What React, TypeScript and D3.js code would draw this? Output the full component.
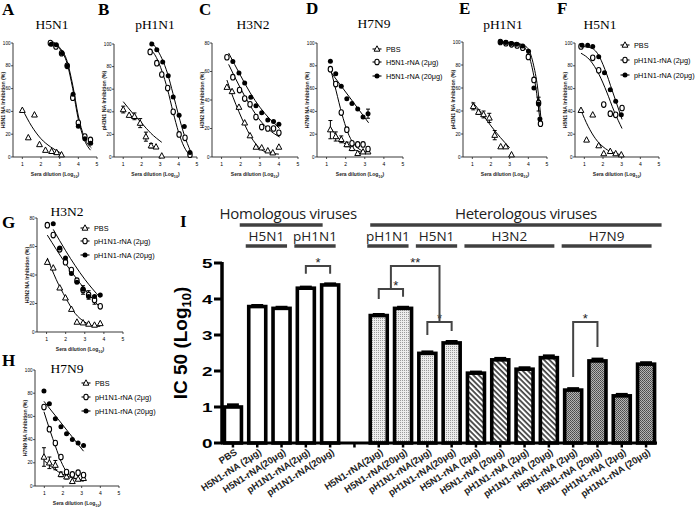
import React from "react";
import * as d3 from "d3";

type Pt = [number, number];

// ---------------- small panels: measured points (x = log10 dilution, y = % inhibition) ----------------
const A_PBS: Pt[] = [[1.0, 41], [1.32, 17], [1.65, 37], [1.92, 11], [2.24, 6], [2.57, 5], [2.84, 4], [3.1, 2]];
const A_LO: Pt[] = [[2.5, 100], [2.8, 97], [3.1, 91], [3.4, 80], [3.7, 52], [4.0, 30], [4.35, 18], [4.65, 15]];
const A_HI: Pt[] = [[2.55, 99], [2.82, 98.5], [3.14, 91], [3.41, 80], [3.72, 55], [4.0, 27], [4.35, 16], [4.66, 12]];
const A_FIT_PBS: Pt[] = [[1.0, 42], [1.5, 27], [2.0, 16], [2.5, 9], [3.0, 4], [3.1, 3]];
const A_FIT_LO: Pt[] = [[2.5, 101], [3.0, 95], [3.4, 82], [3.7, 60], [4.0, 33], [4.3, 16], [4.65, 6]];
const A_FIT_HI: Pt[] = [[2.5, 102], [3.0, 96], [3.4, 84], [3.7, 63], [4.0, 36], [4.3, 18], [4.7, 8]];

const B_PBS: Pt[] = [[1.0, 42], [1.32, 37], [1.61, 36], [1.92, 30], [2.23, 18], [2.51, 10], [2.78, 9], [3.09, 1]];
const B_PBS_ERR = [3, 0, 3, 4, 4, 2, 0, 0];
const B_LO: Pt[] = [[2.46, 93], [2.82, 83], [3.09, 73], [3.41, 61], [3.71, 40], [4.03, 20], [4.35, 17], [4.62, 2]];
const B_HI: Pt[] = [[2.55, 100], [2.82, 95], [3.14, 84], [3.44, 72], [3.71, 53], [4.03, 37], [4.31, 27], [4.62, 4]];
const B_FIT_PBS: Pt[] = [[1.0, 49], [1.5, 39], [2.0, 30], [2.5, 21], [3.09, 13]];
const B_FIT_LO: Pt[] = [[2.45, 96], [2.8, 88], [3.1, 76], [3.4, 60], [3.7, 40], [4.0, 22], [4.3, 9], [4.65, 1]];
const B_FIT_HI: Pt[] = [[2.5, 102], [2.8, 96], [3.1, 87], [3.4, 74], [3.7, 56], [4.0, 37], [4.3, 20], [4.65, 5]];

const C_PBS: Pt[] = [[1.28, 49], [1.55, 46], [1.91, 35], [2.21, 24], [2.49, 15], [2.8, 7], [3.1, 6.5], [3.42, 4.4], [3.68, 3], [4.0, 7]];
const C_LO: Pt[] = [[1.28, 70], [1.59, 56], [1.94, 47], [2.21, 41], [2.49, 37], [2.8, 28], [3.1, 21], [3.42, 20], [3.72, 20], [4.0, 17]];
const C_HI: Pt[] = [[1.59, 67], [1.91, 59], [2.21, 52], [2.53, 42], [2.8, 36], [3.1, 31], [3.42, 26], [3.72, 25], [4.0, 23]];
const C_FIT_PBS: Pt[] = [[1.28, 54], [1.6, 42], [1.9, 32], [2.2, 23], [2.5, 15], [2.8, 9], [3.1, 5], [3.5, 3], [4.0, 2]];
const C_FIT_LO: Pt[] = [[1.37, 65], [2.0, 48], [2.5, 36], [3.0, 26], [3.5, 19], [4.04, 14]];
const C_FIT_HI: Pt[] = [[1.37, 73], [2.0, 57], [2.5, 45], [3.0, 35], [3.5, 27], [4.04, 20]];

const D_PBS: Pt[] = [[1.2, 24], [1.48, 18], [1.77, 15.5], [2.06, 11], [2.33, 7.6], [2.63, 3.2], [2.91, 4.6], [3.17, 4.6]];
const D_PBS_ERR = [8, 4, 3, 2, 2, 0, 0, 0];
const D_LO: Pt[] = [[1.2, 77], [1.48, 64], [1.77, 39], [2.06, 24], [2.33, 12], [2.63, 11], [2.91, 11], [3.17, 7]];
const D_HI: Pt[] = [[1.2, 84], [1.48, 73], [1.77, 62], [2.06, 51], [2.33, 47], [2.63, 42], [2.91, 35], [3.17, 38]];
const D_HI_ERR = [0, 0, 0, 0, 0, 0, 0, 4];
const D_FIT_PBS: Pt[] = [[1.2, 26], [1.6, 17], [2.0, 11], [2.5, 6], [3.2, 3]];
const D_FIT_LO: Pt[] = [[1.2, 78], [1.5, 58], [1.8, 38], [2.1, 22], [2.4, 12], [2.8, 6], [3.2, 4]];
const D_FIT_HI: Pt[] = [[1.2, 75], [3.2, 30]];

const E_PBS: Pt[] = [[1.05, 44], [1.33, 39], [1.6, 37], [1.91, 34], [2.2, 19], [2.52, 9], [2.79, 9], [3.1, 2]];
const E_PBS_ERR = [3, 2, 3, 4, 4, 0, 0, 0];
const E_LO: Pt[] = [[2.5, 100], [2.8, 99], [3.1, 98], [3.4, 97], [3.7, 95], [4.0, 87], [4.3, 67], [4.55, 47], [4.65, 29]];
const E_HI: Pt[] = [[2.52, 100], [2.79, 99.5], [3.07, 98.6], [3.37, 98], [3.7, 96.5], [4.01, 92], [4.3, 60], [4.55, 46], [4.62, 33]];
const E_HI_ERR = [0, 0, 0, 0, 0, 0, 0, 6, 0];
const E_FIT_PBS: Pt[] = [[1.0, 48], [1.5, 38], [2.0, 27], [2.5, 17], [3.0, 8]];
const E_FIT_LO: Pt[] = [[2.5, 100], [3.5, 98], [3.9, 93], [4.2, 78], [4.45, 55], [4.65, 28]];
const E_FIT_HI: Pt[] = [[2.5, 100], [3.5, 98.5], [3.95, 95], [4.25, 82], [4.5, 60], [4.68, 33]];

const F_PBS: Pt[] = [[0.82, 41], [1.12, 15], [1.45, 37], [1.77, 10], [2.04, 3], [2.39, 5], [2.68, 3], [2.98, 2]];
const F_LO: Pt[] = [[0.82, 97], [1.45, 87], [1.77, 76], [2.04, 46], [2.39, 38], [2.68, 37], [3.02, 43]];
const F_HI: Pt[] = [[0.88, 98], [1.18, 98], [1.45, 97], [1.77, 88], [2.08, 74], [2.39, 59], [2.68, 49], [2.98, 37]];
const F_FIT_PBS: Pt[] = [[0.82, 41], [1.2, 27], [1.6, 16], [2.0, 9], [2.5, 4], [3.0, 2]];
const F_FIT_LO: Pt[] = [[0.82, 91], [1.3, 85], [1.8, 72], [2.2, 57], [2.6, 40], [3.02, 25]];
const F_FIT_HI: Pt[] = [[0.82, 97], [1.3, 96], [1.7, 91], [2.1, 77], [2.5, 58], [3.02, 33]];

const G_PBS: Pt[] = [[1.04, 49], [1.35, 45], [1.69, 31], [1.99, 24], [2.3, 16], [2.59, 7], [2.91, 6.5], [3.2, 5.6], [3.51, 4.9], [3.81, 6]];
const G_LO: Pt[] = [[1.04, 75], [1.35, 68], [1.69, 58], [1.99, 49], [2.3, 43.5], [2.59, 36], [2.91, 29.5], [3.2, 26], [3.51, 22.5], [3.81, 18]];
const G_LO_ERR = [0, 0, 0, 0, 0, 0, 3, 3, 3, 0];
const G_HI: Pt[] = [[1.35, 76], [1.69, 59], [1.99, 52], [2.3, 41], [2.59, 35], [2.91, 30], [3.2, 25], [3.51, 25], [3.81, 26]];
const G_FIT_PBS: Pt[] = [[1.04, 52], [1.5, 37], [2.0, 24], [2.5, 13], [3.0, 7], [3.5, 4], [3.81, 4]];
const G_FIT_LO: Pt[] = [[1.04, 68], [2.0, 48], [3.0, 30], [3.81, 17]];
const G_FIT_HI: Pt[] = [[1.35, 72], [2.0, 57], [3.0, 37], [3.81, 24]];

const H_PBS: Pt[] = [[0.98, 25], [1.27, 20], [1.59, 18], [1.89, 10], [2.19, 8], [2.5, 4], [2.81, 6], [3.1, 6.6]];
const H_PBS_ERR = [8, 5, 4, 2, 2, 0, 0, 0];
const H_LO: Pt[] = [[0.98, 68], [1.27, 49], [1.59, 37], [1.89, 25], [2.19, 12], [2.5, 10], [2.81, 11.5], [3.1, 9.5]];
const H_HI: Pt[] = [[0.98, 82], [1.27, 71], [1.59, 58], [1.89, 51], [2.19, 45], [2.5, 40], [2.81, 37], [3.1, 35]];
const H_FIT_PBS: Pt[] = [[0.98, 22], [1.5, 15], [2.0, 10], [2.5, 7], [3.1, 4]];
const H_FIT_LO: Pt[] = [[0.98, 64], [1.3, 48], [1.6, 34], [1.9, 21], [2.2, 12], [2.6, 7], [3.1, 5]];
const H_FIT_HI: Pt[] = [[0.98, 73], [3.1, 30]];

const X_TICKS = [1, 2, 3, 4, 5];
const LEGEND_H5 = ["PBS", "H5N1-rNA (2\u03bcg)", "H5N1-rNA (20\u03bcg)"];
const LEGEND_PH1 = ["PBS", "pH1N1-rNA (2\u03bcg)", "pH1N1-rNA (20\u03bcg)"];

// ---------------- panel I data ----------------
const BAR_LABELS = [
  "PBS", "H5N1-rNA (2\u03bcg)", "H5N1-rNA(20\u03bcg)", "pH1N1-rNA(2\u03bcg)", "pH1N1-rNA(20\u03bcg)", "",
  "H5N1-rNA(2\u03bcg)", "H5N1-rNA(20\u03bcg)", "pH1N1-rNA(2\u03bcg)", "pH1N1-rNA(20\u03bcg)",
  "H5N1-rNA (2\u03bcg)", "H5N1-rNA (20\u03bcg)", "pH1N1-rNA (2\u03bcg)", "pH1N1-rNA (20\u03bcg)",
  "H5N1-rNA (2\u03bcg)", "H5N1-rNA (20\u03bcg)", "pH1N1-rNA (2\u03bcg)", "pH1N1-rNA (20\u03bcg)",
];
const BAR_VALUES: (number | null)[] = [1.0, 3.79, 3.74, 4.3, 4.39, null, 3.54, 3.74, 2.49, 2.78, 1.94, 2.31, 2.05, 2.37, 1.47, 2.28, 1.31, 2.19];
const BAR_ERR = [0.06, 0.03, 0.03, 0.03, 0.03, 0, 0.03, 0.03, 0.04, 0.04, 0.03, 0.04, 0.04, 0.05, 0.04, 0.05, 0.04, 0.04];
const BAR_GROUP = ["homo", "homo", "homo", "homo", "homo", "", "het1", "het1", "het1", "het1", "h3", "h3", "h3", "h3", "h7", "h7", "h7", "h7"];
const Y_TICKS_I = [0, 1, 2, 3, 4, 5];
// significance brackets: [left index, right index, top value, left leg bottom, right leg bottom, label]
const BRACKETS: [number, number, number, number, number, string][] = [
  [3, 4, 4.92, 4.7, 4.7, "*"],
  [6, 7, 4.28, 4.0, 4.06, "*"],
  [8, 9, 3.36, 3.0, 3.11, "*"],
  [14, 15, 3.36, 1.83, 2.67, "*"],
];
// header groups: [label, from index, to index, level]
const HEADERS: [string, number, number, number][] = [
  ["Homologous viruses", 1, 4, 0],
  ["Heterologous  viruses", 6, 17, 0],
  ["H5N1", 1, 2, 1],
  ["pH1N1", 3, 4, 1],
  ["pH1N1", 6, 7, 1],
  ["H5N1", 8, 9, 1],
  ["H3N2", 10, 13, 1],
  ["H7N9", 14, 17, 1],
];

const SERIF = "'Liberation Serif', 'Times New Roman', serif";
const SANS = "'Liberation Sans', Arial, sans-serif";

type Series = { kind: "pbs" | "lo" | "hi"; pts: Pt[]; fit: Pt[]; err?: number[] };
type PanelCfg = {
  id: string; title: string; ylab: string; x0: number; x1: number; yt: number; yb: number; ymax: number;
  letter: [number, number]; titlePos: [number, number]; series: Series[];
  legend?: { x: number; ys: number[]; labels: string[] };
};

const PANELS: PanelCfg[] = [
  { id: "A", title: "H5N1", ylab: "H5N1 NA Inhibition (%)", x0: 13, x1: 97, yt: 43, yb: 157, ymax: 100, letter: [2, 15], titlePos: [52, 29],
    series: [{ kind: "pbs", pts: A_PBS, fit: A_FIT_PBS }, { kind: "lo", pts: A_LO, fit: A_FIT_LO }, { kind: "hi", pts: A_HI, fit: A_FIT_HI }] },
  { id: "B", title: "pH1N1", ylab: "pH1N1 NA Inhibition (%)", x0: 114, x1: 197, yt: 44, yb: 157, ymax: 100, letter: [98, 15], titlePos: [155, 29],
    series: [{ kind: "pbs", pts: B_PBS, fit: B_FIT_PBS, err: B_PBS_ERR }, { kind: "lo", pts: B_LO, fit: B_FIT_LO }, { kind: "hi", pts: B_HI, fit: B_FIT_HI }] },
  { id: "C", title: "H3N2", ylab: "H3N2 NA Inhibition (%)", x0: 212, x1: 298, yt: 43, yb: 157, ymax: 80, letter: [199, 15], titlePos: [253, 29],
    series: [{ kind: "pbs", pts: C_PBS, fit: C_FIT_PBS }, { kind: "lo", pts: C_LO, fit: C_FIT_LO }, { kind: "hi", pts: C_HI, fit: C_FIT_HI }] },
  { id: "D", title: "H7N9", ylab: "H7N9 NA Inhibition (%)", x0: 317, x1: 403, yt: 43, yb: 157, ymax: 100, letter: [306, 14], titlePos: [374, 28],
    series: [{ kind: "pbs", pts: D_PBS, fit: D_FIT_PBS, err: D_PBS_ERR }, { kind: "lo", pts: D_LO, fit: D_FIT_LO }, { kind: "hi", pts: D_HI, fit: D_FIT_HI, err: D_HI_ERR }],
    legend: { x: 377, ys: [49, 62, 76], labels: LEGEND_H5 } },
  { id: "E", title: "pH1N1", ylab: "pH1N1 NA Inhibition (%)", x0: 463, x1: 547, yt: 42, yb: 157, ymax: 100, letter: [459, 14], titlePos: [503, 29],
    series: [{ kind: "pbs", pts: E_PBS, fit: E_FIT_PBS, err: E_PBS_ERR }, { kind: "lo", pts: E_LO, fit: E_FIT_LO }, { kind: "hi", pts: E_HI, fit: E_FIT_HI, err: E_HI_ERR }] },
  { id: "F", title: "H5N1", ylab: "H5N1 NA Inhibition (%)", x0: 575, x1: 659, yt: 43, yb: 157, ymax: 100, letter: [557, 14], titlePos: [600, 29],
    series: [{ kind: "pbs", pts: F_PBS, fit: F_FIT_PBS }, { kind: "lo", pts: F_LO, fit: F_FIT_LO }, { kind: "hi", pts: F_HI, fit: F_FIT_HI }],
    legend: { x: 625, ys: [45, 60, 75], labels: LEGEND_PH1 } },
  { id: "G", title: "H3N2", ylab: "H3N2 NA Inhibition (%)", x0: 37, x1: 123, yt: 218, yb: 332, ymax: 80, letter: [2, 228], titlePos: [67, 216],
    series: [{ kind: "pbs", pts: G_PBS, fit: G_FIT_PBS }, { kind: "lo", pts: G_LO, fit: G_FIT_LO, err: G_LO_ERR }, { kind: "hi", pts: G_HI, fit: G_FIT_HI }],
    legend: { x: 85, ys: [228, 241, 255], labels: LEGEND_PH1 } },
  { id: "H", title: "H7N9", ylab: "H7N9 NA Inhibition (%)", x0: 35, x1: 119, yt: 370, yb: 486, ymax: 100, letter: [2, 366], titlePos: [67, 373],
    series: [{ kind: "pbs", pts: H_PBS, fit: H_FIT_PBS, err: H_PBS_ERR }, { kind: "lo", pts: H_LO, fit: H_FIT_LO }, { kind: "hi", pts: H_HI, fit: H_FIT_HI }],
    legend: { x: 86, ys: [383, 397, 411], labels: LEGEND_PH1 } },
];

function Marker({ kind, cx, cy }: { kind: string; cx: number; cy: number }) {
  if (kind === "pbs")
    return <path d={`M${cx},${cy - 3.2}L${cx + 2.9},${cy + 2.2}L${cx - 2.9},${cy + 2.2}Z`} fill="white" stroke="black" strokeWidth={1} />;
  if (kind === "lo") return <ellipse cx={cx} cy={cy} rx={2.2} ry={2.8} fill="white" stroke="black" strokeWidth={1.1} />;
  return <circle cx={cx} cy={cy} r={2.5} fill="black" />;
}

function SmallPanel({ p }: { p: PanelCfg }) {
  const x = d3.scaleLinear().domain([0.5, 5]).range([p.x0, p.x1]);
  const y = d3.scaleLinear().domain([0, p.ymax]).range([p.yb, p.yt]);
  const line = d3.line<Pt>().x((d) => x(d[0])).y((d) => y(d[1])).curve(d3.curveMonotoneX);
  const yTicks = d3.range(0, p.ymax + 1, 20);
  const midY = (p.yt + p.yb) / 2;
  const midX = (p.x0 + p.x1) / 2;
  return (
    <g>
      <text x={p.letter[0]} y={p.letter[1]} fontFamily={SERIF} fontWeight="bold" fontSize={17}>{p.id}</text>
      <text x={p.titlePos[0]} y={p.titlePos[1]} textAnchor="middle" fontFamily={SERIF} fontSize={13.5}>{p.title}</text>
      <line x1={p.x0} x2={p.x0} y1={p.yt} y2={p.yb} stroke="#222" strokeWidth={0.9} />
      <line x1={p.x0} x2={p.x1} y1={p.yb} y2={p.yb} stroke="#222" strokeWidth={0.9} />
      {yTicks.map((t) => (
        <g key={"y" + t}>
          <line x1={p.x0 - 2} x2={p.x0} y1={y(t)} y2={y(t)} stroke="#222" strokeWidth={0.8} />
          <text x={p.x0 - 2.5} y={y(t)} dy="0.35em" textAnchor="end" fontFamily={SANS} fontSize={4.6}>{t}</text>
        </g>
      ))}
      {X_TICKS.map((t) => (
        <g key={"x" + t}>
          <line x1={x(t)} x2={x(t)} y1={p.yb} y2={p.yb + 2} stroke="#222" strokeWidth={0.8} />
          <text x={x(t)} y={p.yb + 8.5} textAnchor="middle" fontFamily={SANS} fontSize={5}>{t}</text>
        </g>
      ))}
      <text x={midX} y={p.yb + 19} textAnchor="middle" fontFamily={SANS} fontSize={5} fontWeight="bold" fill="#222">
        Sera dilution (Log<tspan dy={1.5} fontSize={3.8}>10</tspan><tspan dy={-1.5}>)</tspan>
      </text>
      <text transform={`translate(${p.x0 - 8},${midY}) rotate(-90)`} textAnchor="middle" fontFamily={SANS} fontSize={5.2} fontWeight="bold" fill="#222">
        {p.ylab}
      </text>
      {p.series.map((s, i) => (
        <path key={"f" + i} d={line(s.fit) || ""} fill="none" stroke="black" strokeWidth={1} />
      ))}
      {p.series.map((s, i) =>
        s.err ? s.pts.map((d, j) => s.err![j] > 0 ? (
          <g key={`e${i}-${j}`} stroke="black" strokeWidth={1}>
            <line x1={x(d[0])} x2={x(d[0])} y1={y(d[1] - s.err![j])} y2={y(d[1] + s.err![j])} />
            <line x1={x(d[0]) - 2} x2={x(d[0]) + 2} y1={y(d[1] + s.err![j])} y2={y(d[1] + s.err![j])} />
            <line x1={x(d[0]) - 2} x2={x(d[0]) + 2} y1={y(d[1] - s.err![j])} y2={y(d[1] - s.err![j])} />
          </g>
        ) : null) : null
      )}
      {p.series.map((s, i) => s.pts.map((d, j) => <Marker key={`m${i}-${j}`} kind={s.kind} cx={x(d[0])} cy={y(d[1])} />))}
      {p.legend && p.legend.labels.map((lab, i) => {
        const ly = p.legend!.ys[i];
        const lx = p.legend!.x;
        return (
          <g key={"l" + i}>
            <line x1={lx - 4.5} x2={lx + 4.5} y1={ly} y2={ly} stroke="black" strokeWidth={1.1} />
            <Marker kind={p.series[i].kind} cx={lx} cy={ly} />
            <text x={lx + 9} y={ly} dy="0.35em" fontFamily={SANS} fontSize={7.3}>{lab}</text>
          </g>
        );
      })}
    </g>
  );
}

function PanelI() {
  const idx = d3.range(BAR_VALUES.length);
  const x = d3.scaleBand<number>().domain(idx).range([222, 657]).paddingInner(0.3).paddingOuter(0.1);
  const y = d3.scaleLinear().domain([0, 5]).range([443, 263]);
  const bw = x.bandwidth();
  const cx = (i: number) => (x(i) as number) + bw / 2;
  const fillFor: Record<string, string> = { homo: "white", het1: "url(#patLight)", h3: "url(#patHatch)", h7: "url(#patDark)" };
  const hdrColor = "#404040";
  return (
    <g>
      <defs>
        <pattern id="patLight" width={2} height={2} patternUnits="userSpaceOnUse">
          <rect width={2} height={2} fill="#ececec" />
          <rect width={1} height={1} fill="#9a9a9a" />
        </pattern>
        <pattern id="patDark" width={2} height={2} patternUnits="userSpaceOnUse">
          <rect width={2} height={2} fill="#b4b4b4" />
          <rect width={1} height={1} fill="#4a4a4a" />
          <rect x={1} y={1} width={1} height={1} fill="#5a5a5a" />
        </pattern>
        <pattern id="patHatch" width={3.8} height={3.8} patternUnits="userSpaceOnUse" patternTransform="rotate(-45)">
          <rect width={3.8} height={3.8} fill="white" />
          <line x1={1} x2={1} y1={0} y2={3.8} stroke="black" strokeWidth={1.3} />
        </pattern>
      </defs>
      <text x={180} y={227} fontFamily={SERIF} fontWeight="bold" fontSize={17}>I</text>
      {HEADERS.map(([lab, a, b, lvl], i) => {
        let x1: number, x2: number, ty: number, ly: number, off = 0;
        if (lvl === 0) {
          x1 = a === 1 ? (x(a) as number) - 9 : (x(a) as number);
          x2 = a === 1 ? (x(b) as number) + 1 : (x(b) as number) + bw + 7;
          off = a === 1 ? 7 : 10;
          ty = 219; ly = 225;
        } else {
          x1 = (x(a) as number) - 3;
          x2 = (x(b) as number) + bw - 3;
          ty = 241; ly = 246;
        }
        return (
          <g key={"h" + i}>
            <text x={(x1 + x2) / 2 + off} y={ty} textAnchor="middle" fontFamily={"'Open Sans', 'Noto Sans', sans-serif"}
              fontSize={lvl === 0 ? 15 : 13.5} fill="#222" letterSpacing={lvl === 0 ? -0.3 : 0}>{lab}</text>
            <line x1={x1} x2={x2} y1={ly} y2={ly} stroke={hdrColor} strokeWidth={3.4} />
          </g>
        );
      })}
      <line x1={222} x2={222} y1={y(5) - 1} y2={y(0)} stroke="black" strokeWidth={3.5} />
      {Y_TICKS_I.map((t) => (
        <g key={"yt" + t}>
          <line x1={214} x2={222} y1={y(t)} y2={y(t)} stroke="black" strokeWidth={3} />
          <text x={212.5} y={y(t)} dy="0.36em" textAnchor="end" fontFamily={SANS} fontWeight="bold" fontSize={13}
            textLength={10.5} lengthAdjust="spacingAndGlyphs">{t}</text>
        </g>
      ))}
      <text transform="translate(187,343) rotate(-90)" textAnchor="middle" fontFamily={SANS} fontWeight="bold" fontSize={19}>
        IC 50 (Log<tspan dy={4} fontSize={13}>10</tspan><tspan dy={-4}>)</tspan>
      </text>
      {idx.map((i) => {
        const v = BAR_VALUES[i];
        if (v == null) return null;
        const e = BAR_ERR[i];
        return (
          <g key={"b" + i}>
            <rect x={x(i)} y={y(v)} width={bw} height={y(0) - y(v)} fill={fillFor[BAR_GROUP[i]]} stroke="black" strokeWidth={3.6} />
            <line x1={cx(i)} x2={cx(i)} y1={y(v)} y2={y(v + e)} stroke="black" strokeWidth={2.5} />
            <line x1={cx(i) - bw * 0.35} x2={cx(i) + bw * 0.35} y1={y(v + e)} y2={y(v + e)} stroke="black" strokeWidth={3} />
          </g>
        );
      })}
      <line x1={221} x2={657} y1={y(0)} y2={y(0)} stroke="black" strokeWidth={3} />
      {idx.map((i) => (
        <g key={"xt" + i}>
          <line x1={cx(i)} x2={cx(i)} y1={y(0)} y2={y(0) + 4.5} stroke="black" strokeWidth={2.5} />
          <text transform={`translate(${cx(i) + 3},${y(0) + 8}) rotate(-33)`} textAnchor="end" dy="0.35em"
            fontFamily={SANS} fontWeight="bold" fontSize={9.4} fill="#222">{BAR_LABELS[i]}</text>
        </g>
      ))}
      {BRACKETS.map(([a, b, top, lb, rb, lab], i) => {
        const xa = cx(a), xb = cx(b);
        const path = d3.path();
        path.moveTo(xa, y(lb)); path.lineTo(xa, y(top)); path.lineTo(xb, y(top)); path.lineTo(xb, y(rb));
        const sx = a === 6 ? (xa + xb) / 2 + 5 : (xa + xb) / 2;
        return (
          <g key={"br" + i}>
            <path d={path.toString()} fill="none" stroke="#444" strokeWidth={2} />
            <text x={sx} y={y(top) + 1} textAnchor="middle" fontFamily={SANS} fontSize={13} fill="#222">{lab}</text>
          </g>
        );
      })}
      {(() => {
        const b1 = BRACKETS[1], b2 = BRACKETS[2];
        const xa = (cx(b1[0]) + cx(b1[1])) / 2, xb = (cx(b2[0]) + cx(b2[1])) / 2;
        const top = 4.92;
        const path = d3.path();
        path.moveTo(xa, y(b1[2])); path.lineTo(xa, y(top)); path.lineTo(xb, y(top)); path.lineTo(xb, y(b2[2]));
        return (
          <g>
            <path d={path.toString()} fill="none" stroke="#444" strokeWidth={2} />
            <text x={(xa + xb) / 2} y={y(top) + 1} textAnchor="middle" fontFamily={SANS} fontSize={13} fill="#222">**</text>
          </g>
        );
      })()}
    </g>
  );
}

export default function App() {
  return (
    <svg width={696} height={509} viewBox="0 0 696 509" style={{ position: "absolute", left: 0, top: 0, background: "white" }}>
      <rect width={696} height={509} fill="white" />
      {PANELS.map((p) => <SmallPanel key={p.id} p={p} />)}
      <PanelI />
    </svg>
  );
}
